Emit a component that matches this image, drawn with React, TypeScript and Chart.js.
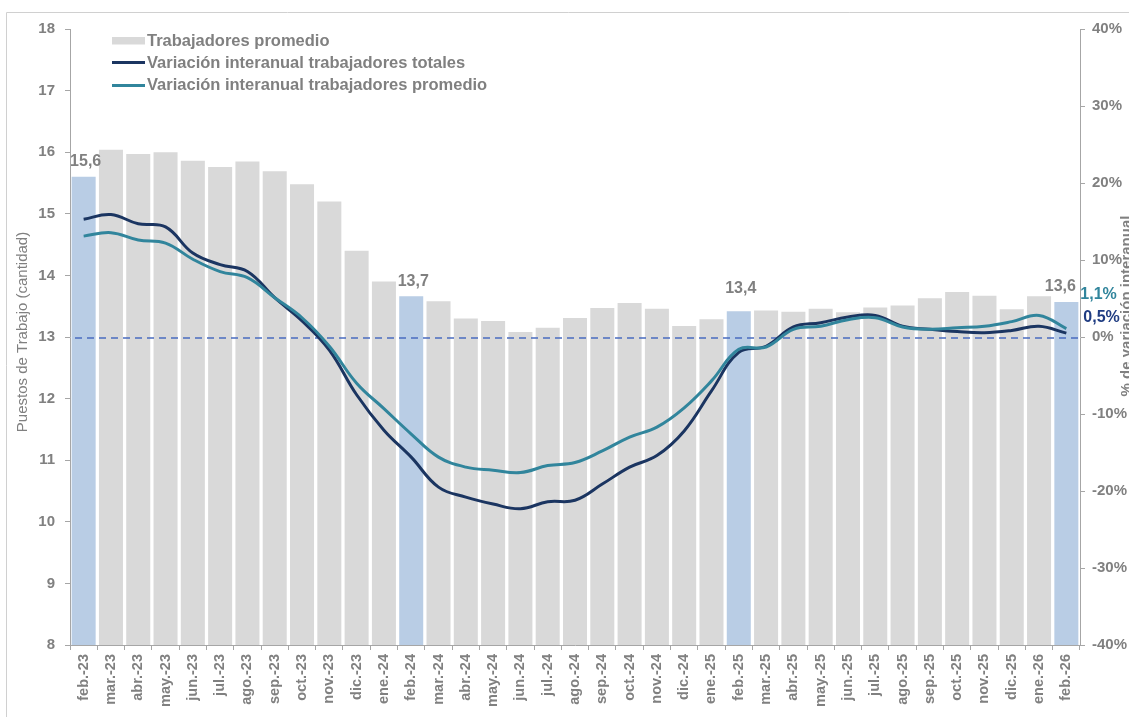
import React, { useEffect, useRef } from 'react';
import { Chart, registerables } from 'chart.js';

Chart.register(...registerables);

const labels = [
  'feb.-23', 'mar.-23', 'abr.-23', 'may.-23', 'jun.-23', 'jul.-23', 'ago.-23', 'sep.-23', 'oct.-23', 'nov.-23', 'dic.-23', 'ene.-24',
  'feb.-24', 'mar.-24', 'abr.-24', 'may.-24', 'jun.-24', 'jul.-24', 'ago.-24', 'sep.-24', 'oct.-24', 'nov.-24', 'dic.-24', 'ene.-25',
  'feb.-25', 'mar.-25', 'abr.-25', 'may.-25', 'jun.-25', 'jul.-25', 'ago.-25', 'sep.-25', 'oct.-25', 'nov.-25', 'dic.-25', 'ene.-26',
  'feb.-26',
];

const trabajadoresPromedio = [
  15.6, 16.04, 15.97, 16.0, 15.86, 15.76, 15.85, 15.69, 15.48, 15.2, 14.4, 13.9,
  13.66, 13.58, 13.3, 13.26, 13.08, 13.15, 13.31, 13.47, 13.55, 13.46, 13.18, 13.29,
  13.42, 13.43, 13.41, 13.46, 13.40, 13.48, 13.51, 13.63, 13.73, 13.67, 13.45, 13.66,
  13.57,
];

const varTotales = [
  15.3, 15.9, 14.7, 14.3, 10.9, 9.4, 8.5, 5.1, 2.1, -1.7, -7.5, -12.1,
  -15.6, -19.5, -20.8, -21.7, -22.3, -21.4, -21.2, -19.1, -16.9, -15.4, -12.2, -7.0,
  -2.0, -1.2, 1.3, 1.85, 2.6, 2.8, 1.4, 1.0, 0.7, 0.55, 0.85, 1.4,
  0.5,
];

const varPromedio = [
  13.1, 13.55, 12.6, 12.2, 10.1, 8.5, 7.7, 5.1, 2.5, -1.2, -6.0, -9.3,
  -12.6, -15.6, -16.9, -17.3, -17.6, -16.7, -16.3, -14.8, -13.0, -11.7, -9.2, -5.7,
  -1.6, -1.3, 1.0, 1.4, 2.25, 2.5, 1.3, 1.0, 1.2, 1.4, 2.0, 2.8,
  1.1,
];

const highlightIdx = [0, 12, 24, 36];
const highlightLabels = ['15,6', '13,7', '13,4', '13,6'];
const endLabelPromedio = '1,1%';
const endLabelTotales = '0,5%';

const seriesNames = [
  'Trabajadores promedio',
  'Variación interanual trabajadores totales',
  'Variación interanual trabajadores promedio',
];
const leftTitle = 'Puestos de Trabajo (cantidad)';
const rightTitle = '% de variación interanual';

const GRAY_TEXT = '#808080';
const BAR_GRAY = '#d9d9d9';
const BAR_BLUE = '#b9cde5';
const NAVY = '#1b3561';
const TEAL = '#31859c';
const AXIS = '#a6a6a6';
const FONT = '"Liberation Sans", Arial, sans-serif';

const customPlugin = {
  id: 'customDraw',
  beforeDraw(chart: any) {
    const ctx = chart.ctx;
    ctx.save();
    ctx.strokeStyle = '#d0d0d0';
    ctx.lineWidth = 1;
    ctx.beginPath();
    ctx.moveTo(6.5, 800);
    ctx.lineTo(6.5, 12.5);
    ctx.lineTo(1200, 12.5);
    ctx.stroke();
    ctx.restore();
  },
  beforeDatasetDraw(chart: any, args: any) {
    if (args.index !== 1) return;
    const ctx = chart.ctx;
    const ca = chart.chartArea;
    const yR = chart.scales.yR;
    const y = yR.getPixelForValue(0) + 1;
    ctx.save();
    ctx.strokeStyle = '#4a6cc0';
    ctx.lineWidth = 1.3;
    ctx.setLineDash([7, 5]);
    ctx.beginPath();
    ctx.moveTo(ca.left + 5, y);
    ctx.lineTo(ca.right, y);
    ctx.stroke();
    ctx.restore();
  },
  afterDraw(chart: any) {
    const ctx = chart.ctx;
    ctx.save();

    // Legend
    ctx.textBaseline = 'middle';
    ctx.textAlign = 'left';
    ctx.font = `bold 16.5px ${FONT}`;
    ctx.fillStyle = BAR_GRAY;
    ctx.fillRect(112, 37, 33, 7.5);
    ctx.lineWidth = 3;
    ctx.strokeStyle = NAVY;
    ctx.beginPath();
    ctx.moveTo(112, 62.5);
    ctx.lineTo(145, 62.5);
    ctx.stroke();
    ctx.strokeStyle = TEAL;
    ctx.beginPath();
    ctx.moveTo(112, 85.5);
    ctx.lineTo(145, 85.5);
    ctx.stroke();
    ctx.fillStyle = GRAY_TEXT;
    ctx.fillText(seriesNames[0], 147, 41);
    ctx.fillText(seriesNames[1], 147, 63);
    ctx.fillText(seriesNames[2], 147, 85.5);

    // Bar labels
    const barMeta = chart.getDatasetMeta(0);
    const offsetsY = [15, 15, 23, 15];
    const offsetsX = [2, 2, 2, -6];
    ctx.font = `bold 16px ${FONT}`;
    ctx.textAlign = 'center';
    ctx.fillStyle = GRAY_TEXT;
    highlightIdx.forEach((idx, k) => {
      const el = barMeta.data[idx];
      ctx.fillText(highlightLabels[k], el.x + offsetsX[k], el.y - offsetsY[k]);
    });

    // End labels
    const last = labels.length - 1;
    const tealPt = chart.getDatasetMeta(2).data[last];
    const navyPt = chart.getDatasetMeta(1).data[last];
    ctx.textAlign = 'left';
    ctx.fillStyle = TEAL;
    ctx.fillText(endLabelPromedio, tealPt.x + 14, tealPt.y - 34);
    ctx.fillStyle = '#1f3c82';
    ctx.fillText(endLabelTotales, navyPt.x + 17, navyPt.y - 16);

    // Axis titles
    ctx.fillStyle = GRAY_TEXT;
    ctx.textAlign = 'center';
    ctx.save();
    ctx.translate(23, 332);
    ctx.rotate(-Math.PI / 2);
    ctx.font = `15px ${FONT}`;
    ctx.fillText(leftTitle, 0, 0);
    ctx.restore();
    ctx.save();
    ctx.translate(1127, 306);
    ctx.rotate(-Math.PI / 2);
    ctx.font = `bold 15px ${FONT}`;
    ctx.fillText(rightTitle, 0, 0);
    ctx.restore();

    ctx.restore();
  },
};

export default function App() {
  const canvasRef = useRef<HTMLCanvasElement | null>(null);

  useEffect(() => {
    const canvas = canvasRef.current;
    if (!canvas) return;
    const barColors = labels.map((_, i) => (highlightIdx.includes(i) ? BAR_BLUE : BAR_GRAY));

    const chart = new Chart(canvas, {
      type: 'bar',
      data: {
        labels,
        datasets: [
          {
            type: 'bar',
            label: seriesNames[0],
            data: trabajadoresPromedio,
            backgroundColor: barColors,
            borderWidth: 0,
            barPercentage: 0.88,
            categoryPercentage: 1,
            yAxisID: 'yL',
            order: 3,
          },
          {
            type: 'line',
            label: seriesNames[1],
            data: varTotales,
            borderColor: NAVY,
            borderWidth: 3,
            pointRadius: 0,
            tension: 0.4,
            fill: false,
            yAxisID: 'yR',
            order: 2,
          },
          {
            type: 'line',
            label: seriesNames[2],
            data: varPromedio,
            borderColor: TEAL,
            borderWidth: 3,
            pointRadius: 0,
            tension: 0.4,
            fill: false,
            yAxisID: 'yR',
            order: 1,
          },
        ] as any,
      },
      options: {
        responsive: false,
        animation: false,
        devicePixelRatio: 1,
        layout: { padding: { top: 29, left: 0, right: 0, bottom: 0 } },
        plugins: {
          legend: { display: false },
          tooltip: { enabled: false },
          title: { display: false },
        },
        scales: {
          x: {
            offset: true,
            grid: {
              display: true,
              drawOnChartArea: false,
              offset: true,
              tickLength: 5,
              color: AXIS,
            },
            border: { display: true, color: AXIS },
            ticks: {
              autoSkip: false,
              maxRotation: 90,
              minRotation: 90,
              padding: 4,
              color: GRAY_TEXT,
              font: { family: FONT, size: 14.5, weight: 'bold' },
            },
            afterFit: (s: any) => {
              s.height = 72;
            },
          },
          yL: {
            type: 'linear',
            position: 'left',
            min: 8,
            max: 18,
            ticks: {
              stepSize: 1,
              padding: 10,
              color: GRAY_TEXT,
              font: { family: FONT, size: 15, weight: 'bold' },
            },
            grid: { display: true, drawOnChartArea: false, tickLength: 5, color: AXIS },
            border: { display: true, color: AXIS },
            afterFit: (s: any) => {
              s.width = 70;
            },
          },
          yR: {
            type: 'linear',
            position: 'right',
            min: -40,
            max: 40,
            ticks: {
              stepSize: 10,
              padding: 7,
              color: GRAY_TEXT,
              font: { family: FONT, size: 15, weight: 'bold' },
              callback: (v: any) => `${v}%`,
            },
            grid: { display: true, drawOnChartArea: false, tickLength: 5, color: AXIS },
            border: { display: true, color: AXIS },
            afterFit: (s: any) => {
              s.width = 49;
            },
          },
        },
      } as any,
      plugins: [customPlugin],
    });

    return () => {
      chart.destroy();
    };
  }, []);

  return (
    <div style={{ position: 'absolute', left: 0, top: 0, width: 1129, height: 717, background: '#ffffff', overflow: 'hidden' }}>
      <canvas ref={canvasRef} width={1129} height={717} style={{ display: 'block', width: 1129, height: 717 }} />
    </div>
  );
}
